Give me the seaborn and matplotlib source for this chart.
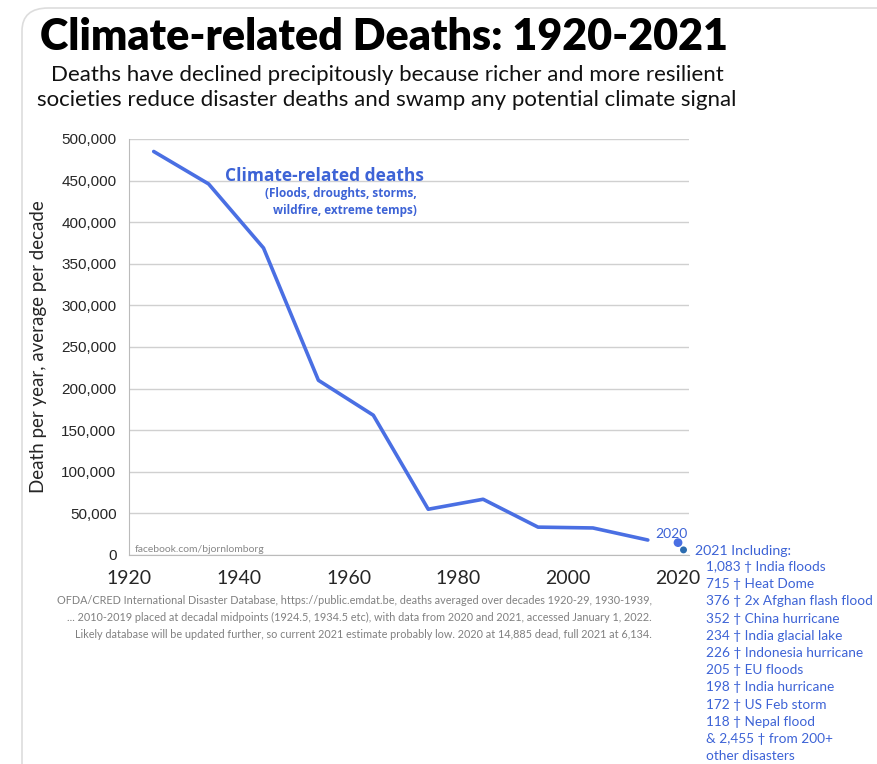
import matplotlib.pyplot as plt
import pandas as pd
import seaborn as sns
from matplotlib.patches import FancyBboxPatch

# Decadal averages placed at decadal midpoints
years = [1924.5, 1934.5, 1944.5, 1954.5, 1964.5, 1974.5, 1984.5, 1994.5, 2004.5, 2014.5]
deaths = [485000, 446000, 369000, 210000, 168000, 55000, 67000, 33500, 32500, 18000]

# Single years
point_2020 = 14885
point_2021 = 6134

list_2021 = ['1,083 \u2020 India floods', '715 \u2020 Heat Dome', '376 \u2020 2x Afghan flash flood',
             '352 \u2020 China hurricane', '234 \u2020 India glacial lake', '226 \u2020 Indonesia hurricane',
             '205 \u2020 EU floods', '198 \u2020 India hurricane', '172 \u2020 US Feb storm',
             '118 \u2020 Nepal flood', '& 2,455 \u2020 from 200+', 'other disasters']

footnote = ['OFDA/CRED International Disaster Database, https://public.emdat.be, deaths averaged over decades 1920-29, 1930-1939,',
            '... 2010-2019 placed at decadal midpoints (1924.5, 1934.5 etc), with data from 2020 and 2021, accessed January 1, 2022.',
            'Likely database will be updated further, so current 2021 estimate probably low. 2020 at 14,885 dead, full 2021 at 6,134.']

df = pd.DataFrame({'year': years, 'deaths': deaths})

sns.set_style('white')
plt.rcParams['font.family'] = ['Lato', 'DejaVu Sans']

blue = '#4a6fe3'
text_blue = '#3d63d6'

fig = plt.figure(figsize=(8.77, 7.64), dpi=100)
ax = fig.add_axes([129 / 877, 1 - 555 / 764, 560 / 877, 416 / 764])

# card border like the screenshot
fig.patches.append(FancyBboxPatch((22 / 877, -0.2), 1.2, 1 - 8 / 764 + 0.2,
                                  boxstyle='round,pad=0,rounding_size=0.03',
                                  transform=fig.transFigure, fill=False,
                                  edgecolor='#dddddd', linewidth=1.2, clip_on=False))

sns.lineplot(data=df, x='year', y='deaths', ax=ax, color=blue, linewidth=2.6)
sns.scatterplot(x=[2020], y=[point_2020], ax=ax, color=blue, s=40, edgecolor='none', clip_on=False)
sns.scatterplot(x=[2021], y=[point_2021], ax=ax, color='#2b6cb0', s=25, edgecolor='none', clip_on=False)

ax.set_xlim(1920, 2022)
ax.set_ylim(0, 500000)
ax.set_xticks([1920, 1940, 1960, 1980, 2000, 2020])
ax.set_yticks(range(0, 500001, 50000))
ax.set_yticklabels([f'{v:,}' for v in range(0, 500001, 50000)], family='Liberation Sans', fontsize=11)
ax.tick_params(axis='x', labelsize=14, length=5, color='#bbbbbb', pad=6)
ax.tick_params(axis='y', length=5, color='#bbbbbb', pad=4)
ax.yaxis.grid(True, color='#d0d0d0', linewidth=1)
ax.set_axisbelow(True)
for side in ['top', 'right']:
    ax.spines[side].set_visible(False)
for side in ['left', 'bottom']:
    ax.spines[side].set_color('#bbbbbb')
ax.set_xlabel('')
ax.set_ylabel('Death per year, average per decade', fontsize=13.5, labelpad=10)

ax.text(1937.5, 455000, 'Climate-related deaths', color=text_blue, fontsize=12.5, fontweight='bold',
        family='Open Sans', ha='left', va='center')
ax.text(1972.5, 435000, '(Floods, droughts, storms,', color=text_blue, fontsize=8.5, fontweight='bold',
        family='Open Sans', ha='right', va='center')
ax.text(1972.5, 414000, 'wildfire, extreme temps)', color=text_blue, fontsize=8.5, fontweight='bold',
        family='Open Sans', ha='right', va='center')
ax.text(1921, 7000, 'facebook.com/bjornlomborg', color='#888888', fontsize=7.5, ha='left', va='center')
ax.text(2018.8, 25500, '2020', color=text_blue, fontsize=10, ha='center', va='center', clip_on=False)

fig.text(384 / 877, 1 - 37 / 764, 'Climate-related Deaths: 1920-2021', fontsize=31, fontweight='heavy',
         ha='center', va='center', color='black')
fig.text(387 / 877, 1 - 75 / 764, 'Deaths have declined precipitously because richer and more resilient',
         fontsize=16, ha='center', va='center', color='#111111')
fig.text(387 / 877, 1 - 100 / 764, 'societies reduce disaster deaths and swamp any potential climate signal',
         fontsize=16, ha='center', va='center', color='#111111')

for i, line in enumerate(footnote):
    fig.text(652 / 877, 1 - (600 + 17 * i) / 764, line, fontsize=7.8, color='#808080', ha='right', va='center')

fig.text(695 / 877, 1 - 551 / 764, '2021 Including:', fontsize=10.2, color=text_blue,
         family=['Lato', 'DejaVu Sans'], ha='left', va='center')
for i, line in enumerate(list_2021):
    fig.text(706 / 877, 1 - (567 + 17.2 * i) / 764, line, fontsize=9.8, color=text_blue,
             family=['Lato', 'DejaVu Sans'], ha='left', va='center')

fig.savefig('out.png', dpi=100, facecolor='white')
